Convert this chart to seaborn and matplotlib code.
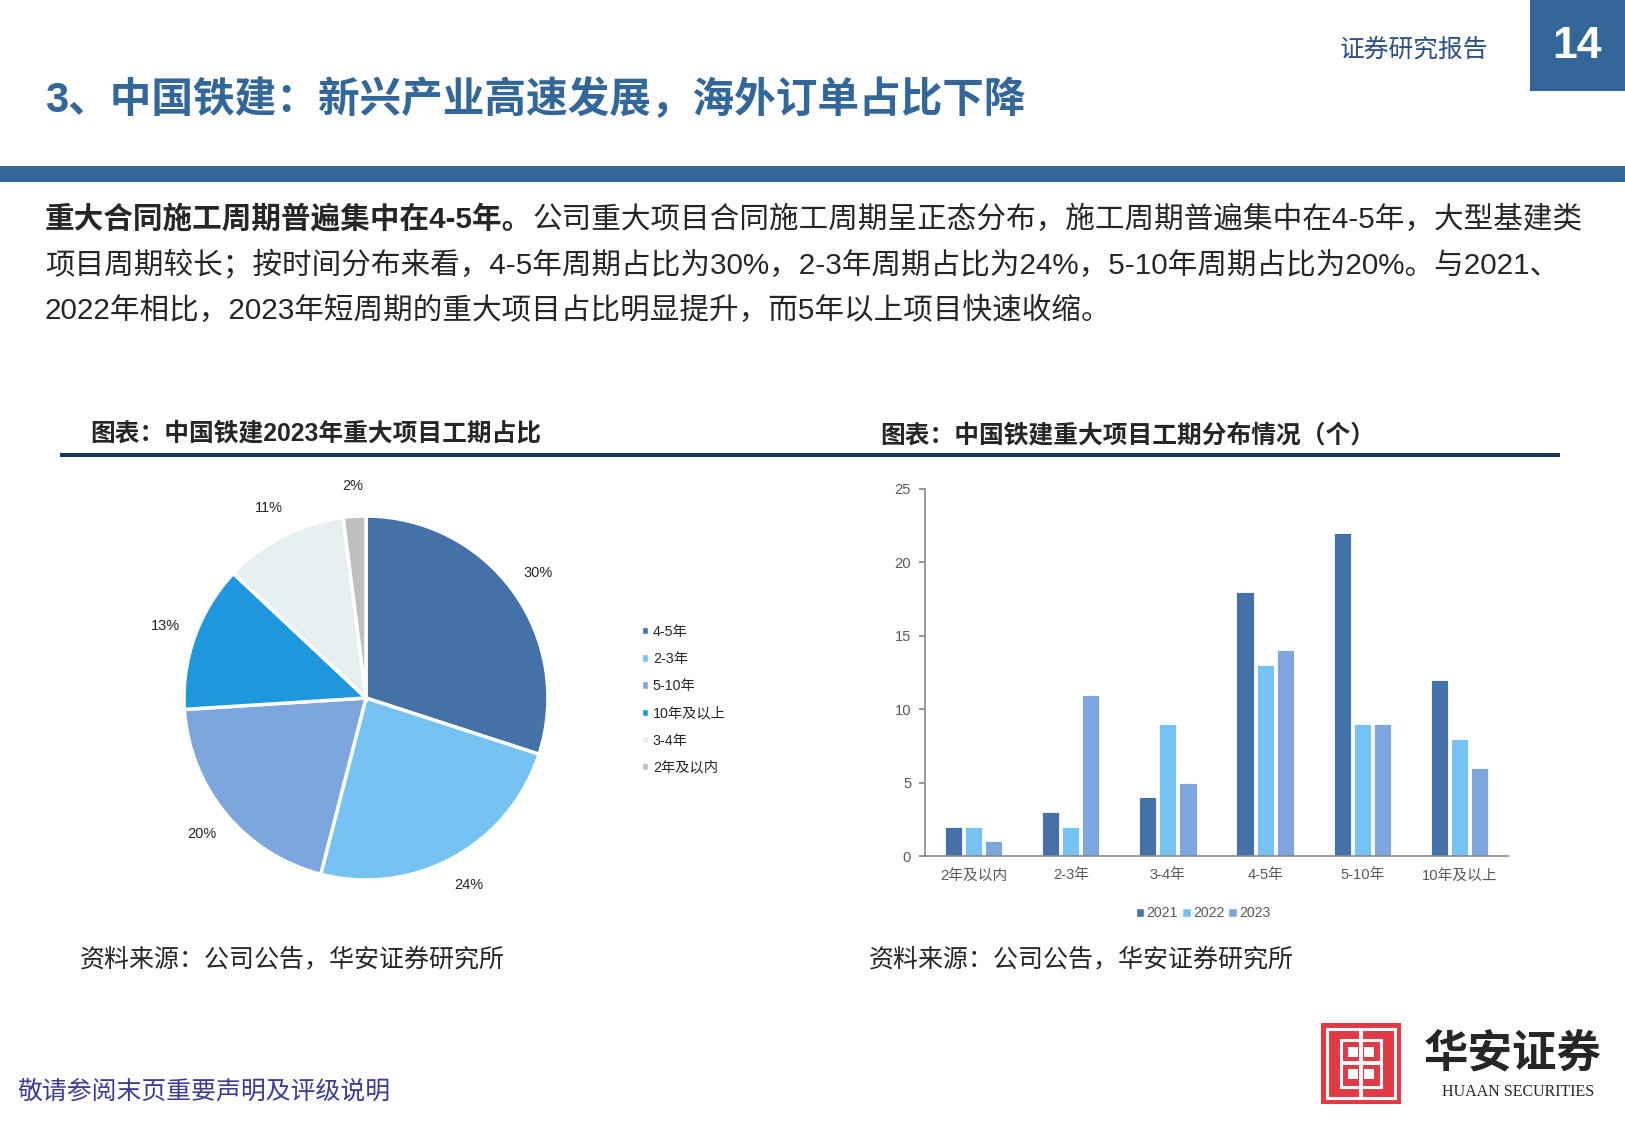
import matplotlib
matplotlib.use("Agg")
import matplotlib.pyplot as plt
import numpy as np
import pandas as pd
import seaborn as sns
from matplotlib.patches import Patch, Rectangle

# data
categories = ["2年及以内", "2-3年", "3-4年", "4-5年", "5-10年", "10年及以上"]
years = ["2021", "2022", "2023"]
count_2021 = [2, 3, 4, 18, 22, 12]
count_2022 = [2, 2, 9, 13, 9, 8]
count_2023 = [1, 11, 5, 14, 9, 6]

pie_labels = ["4-5年", "2-3年", "5-10年", "10年及以上", "3-4年", "2年及以内"]
pie_share = [30, 24, 20, 13, 11, 2]

bar_colors = ["#4472A8", "#75C2F3", "#7DA6DE"]
pie_colors = ["#4472A8", "#75C2F3", "#7DA6DE", "#1F97DF", "#E6F0F1", "#BFBFBF"]

page_title = "3、中国铁建：新兴产业高速发展，海外订单占比下降"
body_bold = "重大合同施工周期普遍集中在4-5年。"
body_lines = [
    "公司重大项目合同施工周期呈正态分布，施工周期普遍集中在4-5年，大型基建类",
    "项目周期较长；按时间分布来看，4-5年周期占比为30%，2-3年周期占比为24%，5-10年周期占比为20%。与2021、",
    "2022年相比，2023年短周期的重大项目占比明显提升，而5年以上项目快速收缩。",
]
pie_title = "图表：中国铁建2023年重大项目工期占比"
bar_title = "图表：中国铁建重大项目工期分布情况（个）"
source = "资料来源：公司公告，华安证券研究所"

W, H = 1625, 1125
BLUE = "#336699"


def fx(px):
    return px / W


def fy(py):
    return 1 - py / H


sns.set_theme(style="white")
plt.rcParams["font.family"] = ["Liberation Sans", "Noto Sans CJK SC"]

fig = plt.figure(figsize=(16.25, 11.25), dpi=100)
fig.patch.set_facecolor("white")


def rect(x0, y0, x1, y1, **kw):
    fig.add_artist(Rectangle((fx(x0), fy(y1)), (x1 - x0) / W, (y1 - y0) / H,
                             transform=fig.transFigure, **kw))


# header
rect(1530, 0, 1625, 91, color=BLUE, lw=0)
fig.text(fx(1577), fy(47), "14", color="white", fontsize=32, fontweight="bold",
         ha="center", va="center")
fig.text(fx(1340), fy(50), "证券研究报告", color="#2C4F85", fontsize=17.8, va="center")
fig.text(fx(45), fy(100), page_title, color=BLUE, fontsize=30, fontweight="bold", va="center")
rect(0, 166, 1625, 182, color=BLUE, lw=0)

# body text
body_size = 21.3
renderer = fig.canvas.get_renderer()
t = fig.text(fx(45), fy(220), body_bold, fontsize=body_size, fontweight="bold", va="center")
x_end = t.get_window_extent(renderer).x1
fig.text(x_end / W, fy(220), body_lines[0], fontsize=body_size, va="center")
fig.text(fx(45), fy(265), body_lines[1], fontsize=body_size, va="center")
fig.text(fx(45), fy(311), body_lines[2], fontsize=body_size, va="center")

# chart titles
fig.text(fx(90), fy(434), pie_title, fontsize=17.8, fontweight="bold", va="center")
fig.text(fx(880), fy(436), bar_title, fontsize=17.8, fontweight="bold", va="center")
rect(60, 453, 1560, 457, color="#17375E", lw=0)

# pie
ax_pie = fig.add_axes([fx(136), fy(928), 460 / W, 460 / H])
wedges, texts, autotexts = ax_pie.pie(
    pie_share, colors=pie_colors, startangle=90, counterclock=False,
    autopct="%.0f%%", pctdistance=1.17,
    wedgeprops=dict(edgecolor="white", linewidth=2.5),
    textprops=dict(fontsize=10.5, color="#262626"),
)
ax_pie.set_xlim(-1.264, 1.264)
ax_pie.set_ylim(-1.264, 1.264)
ax_pie.axis("off")

fig.legend([Patch(facecolor=c) for c in pie_colors], pie_labels,
           loc="upper left", bbox_to_anchor=(fx(629), fy(612)), frameon=False,
           fontsize=10.3, handlelength=0.42, handleheight=0.42,
           handletextpad=0.35, labelspacing=0.92)

# bars
df = pd.DataFrame({
    "category": categories * 3,
    "year": np.repeat(years, len(categories)),
    "count": count_2021 + count_2022 + count_2023,
})
ax_bar = fig.add_axes([fx(925), fy(856), (1508 - 925) / W, (856 - 489) / H])
sns.barplot(data=df, x="category", y="count", hue="year", palette=bar_colors,
            saturation=1, width=0.62, gap=0.15, edgecolor="white", linewidth=0.6,
            ax=ax_bar)
ax_bar.get_legend().remove()
ax_bar.set_xlim(-0.5, 5.5)
ax_bar.set_ylim(0, 25)
ax_bar.set_yticks(np.arange(0, 26, 5))
ax_bar.set_xlabel("")
ax_bar.set_ylabel("")
for s in ["top", "right"]:
    ax_bar.spines[s].set_visible(False)
for s in ["left", "bottom"]:
    ax_bar.spines[s].set_color("#898989")
    ax_bar.spines[s].set_linewidth(1.2)
ax_bar.set_xticks(np.arange(-0.5, 6, 1), minor=True)
ax_bar.tick_params(axis="x", which="major", length=0, pad=9, labelsize=10.6, labelcolor="#595959")
ax_bar.tick_params(axis="x", which="minor", length=4, color="#898989", direction="out")
ax_bar.tick_params(axis="y", length=4, color="#898989", direction="out", pad=6,
                   labelsize=10.6, labelcolor="#595959", left=True)

fig.legend([Patch(facecolor=c) for c in bar_colors], years, loc="center",
           bbox_to_anchor=(fx(1203), fy(913)), ncol=3, frameon=False,
           fontsize=10.2, handlelength=0.6, handleheight=0.6,
           handletextpad=0.15, columnspacing=0.3, labelcolor="#595959")

# sources
fig.text(fx(80), fy(959), source, fontsize=18, fontstyle="italic", va="center")
fig.text(fx(869), fy(959), source, fontsize=18, fontstyle="italic", va="center")

# footer
fig.text(fx(17), fy(1092), "敬请参阅末页重要声明及评级说明", color="#3B3B98", fontsize=17.9, va="center")

# logo
rect(1321, 1023, 1401, 1104, color="#E03A45", lw=0)
rect(1327, 1029, 1395, 1098, fill=False, edgecolor="white", lw=2.2)
rect(1341, 1040, 1381, 1087, fill=False, edgecolor="white", lw=2.2)
rect(1348, 1047, 1358, 1057, color="white", lw=0)
rect(1364, 1047, 1374, 1057, color="white", lw=0)
rect(1348, 1069, 1358, 1079, color="white", lw=0)
rect(1364, 1069, 1374, 1079, color="white", lw=0)
rect(1359, 1029, 1363, 1098, color="white", lw=0)
rect(1341, 1061, 1381, 1065, color="white", lw=0)
fig.text(fx(1513), fy(1055), "华安证券", fontsize=32, fontweight="bold", ha="center", va="center")
fig.text(fx(1518), fy(1092), "HUAAN SECURITIES", family="Liberation Serif", fontsize=11.5,
         ha="center", va="center")

fig.savefig("out.png", dpi=100)
